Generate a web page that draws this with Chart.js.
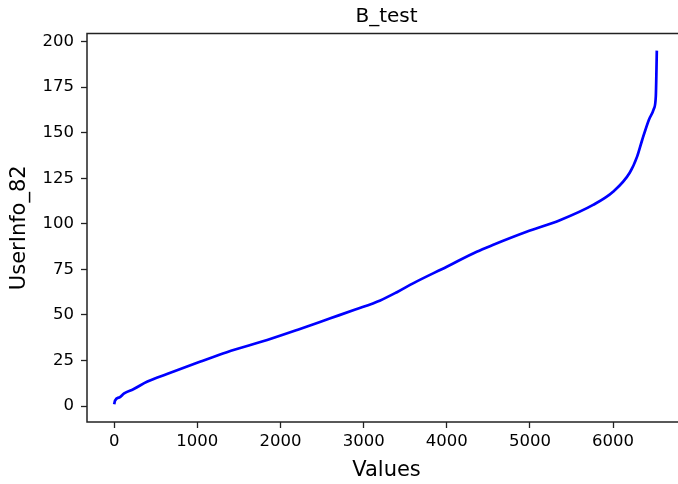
<!DOCTYPE html>
<html>
<head>
<meta charset="utf-8">
<script src="https://cdn.jsdelivr.net/npm/chart.js@4.4.0/dist/chart.umd.min.js"></script>
<style>
  body { margin: 0; background: #fff; overflow: hidden; }
  #wrap { width: 690px; height: 484px; }
</style>
</head>
<body>
<div id="wrap"><canvas id="chart-btest" width="690" height="484"></canvas></div>
<script>
// sorted values (index -> value)
var xValues = [0, 10, 70, 120, 230, 400, 635, 1030, 1355, 1840, 2200, 2600, 2900, 3200, 3400, 3600, 4000, 4360, 4560, 4960, 5360, 5760, 6000, 6200, 6290, 6350, 6430, 6490, 6514, 6522, 6526];
var yValues = [1, 3, 5, 7, 9.3, 13.5, 17.6, 24.3, 29.6, 36.3, 41.8, 48.2, 53, 58, 62.5, 67.5, 76.5, 84.7, 88.5, 95.6, 102, 110.4, 117.6, 128, 137, 146, 157, 163, 170, 185, 195];
var xTicks = [0, 1000, 2000, 3000, 4000, 5000, 6000];
var yTicks = [0, 25, 50, 75, 100, 125, 150, 175, 200];

var points = xValues.map(function (x, i) { return { x: x, y: yValues[i] }; });

// full frame around the plot area, like matplotlib
var frame = {
    id: 'frame',
    afterDraw: function (chart) {
        var a = chart.chartArea, c = chart.ctx;
        c.save();
        c.strokeStyle = '#222';
        c.lineWidth = 1.5;
        c.strokeRect(a.left, a.top, a.right - a.left, a.bottom - a.top);
        c.restore();
    }
};

var ctx = document.getElementById("chart-btest").getContext('2d');
var chart = new Chart(ctx, {
    type: 'scatter',
    data: {
        datasets: [{
            label: "UserInfo_82",
            data: points,
            showLine: true,
            borderColor: '#0000ff',
            borderWidth: 2.7,
            pointRadius: 0,
            cubicInterpolationMode: 'monotone'
        }]
    },
    options: {
        responsive: false,
        animation: false,
        layout: { padding: { left: 0, right: 4, top: 0, bottom: 0 } },
        plugins: {
            legend: { display: false },
            tooltip: { enabled: false },
            title: {
                display: true,
                text: 'B_test',
                fullSize: false,
                color: '#000',
                font: { family: 'DejaVu Sans', size: 20, weight: 'normal', lineHeight: 1.2 },
                padding: { top: 5, bottom: 4.5 }
            }
        },
        scales: {
            x: {
                type: 'linear',
                min: -327,
                max: 6877,
                afterBuildTicks: function (axis) { axis.ticks = xTicks.map(function (v) { return { value: v }; }); },
                afterFit: function (axis) { axis.height = 62; },
                grid: { display: true, drawOnChartArea: false, drawTicks: true, tickLength: 6, tickColor: '#222', tickWidth: 1.3 },
                border: { display: false },
                ticks: { color: '#000', padding: 4, maxRotation: 0, font: { family: 'DejaVu Sans', size: 16.5 },
                         callback: function (v) { return String(v); } },
                title: { display: true, text: 'Values', color: '#000', font: { family: 'DejaVu Sans', size: 21, lineHeight: 1.2 }, padding: { top: 2, bottom: 1 } }
            },
            y: {
                type: 'linear',
                min: -8.7,
                max: 204.4,
                afterBuildTicks: function (axis) { axis.ticks = yTicks.map(function (v) { return { value: v }; }); },
                afterFit: function (axis) { axis.width = 87; },
                grid: { display: true, drawOnChartArea: false, drawTicks: true, tickLength: 6, tickColor: '#222', tickWidth: 1.3 },
                border: { display: false },
                ticks: { color: '#000', padding: 7, font: { family: 'DejaVu Sans', size: 16.5 },
                         callback: function (v) { return String(v); } },
                title: { display: true, text: 'UserInfo_82', color: '#000', font: { family: 'DejaVu Sans', size: 21, lineHeight: 1.2 }, padding: { top: 7, bottom: 2 } }
            }
        }
    },
    plugins: [frame]
});
</script>
</body>
</html>
